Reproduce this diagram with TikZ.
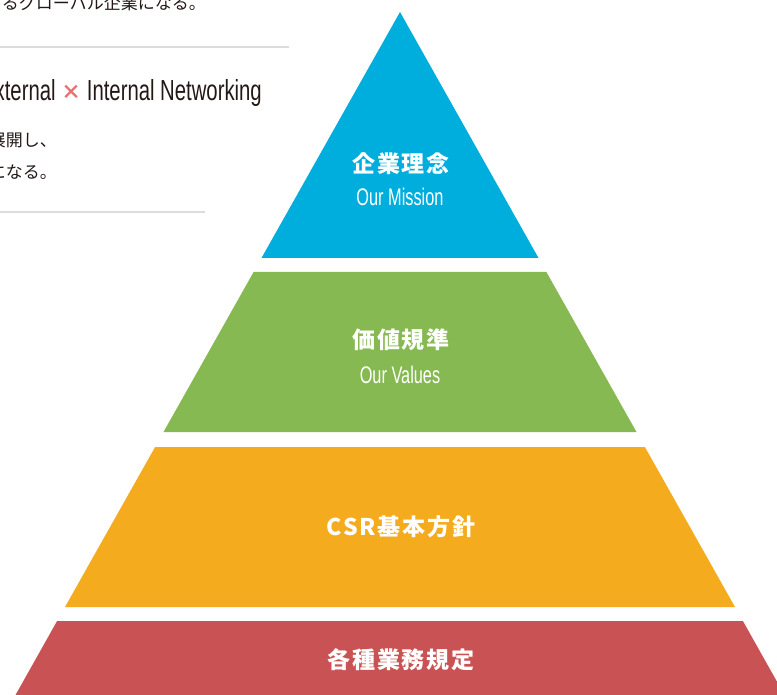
\documentclass[tikz,border=0pt]{standalone}
\usepackage{fontspec}
\newfontfamily\jp{Noto Sans CJK JP}
\newfontfamily\jpt[LetterSpace=8]{Noto Sans CJK JP}
\newfontfamily\cond[FakeStretch=0.70]{Liberation Sans}
\newfontfamily\condb[FakeStretch=0.68]{Liberation Sans}
\definecolor{cblue}{RGB}{0,174,222}
\definecolor{cgreen}{RGB}{134,185,82}
\definecolor{corange}{RGB}{245,171,30}
\definecolor{cred}{RGB}{201,83,84}
\definecolor{cgray}{RGB}{220,220,220}
\definecolor{ctext}{RGB}{35,24,21}
\definecolor{cx}{RGB}{232,112,110}
\tikzset{
  jtitle/.style={text=white,font=\jpt\bfseries\fontsize{23}{26}\selectfont,inner sep=0pt},
  etitle/.style={text=white,font=\condb\fontsize{24}{27}\selectfont,inner sep=0pt},
  body/.style={text=ctext,font=\jp\fontsize{17}{19}\selectfont,inner sep=0pt,anchor=east},
  rule/.style={draw=cgray,line width=1.2pt}
}
\begin{document}
\begin{tikzpicture}[x=1pt,y=-1pt]
\useasboundingbox (0,0) rectangle (777,695);
\clip (0,0) rectangle (777,695);
% pyramid layers
\fill[cblue] (400,12) -- (538.5,258) -- (261.5,258) -- cycle;
\fill[cgreen] (253.6,272) -- (546.4,272) -- (636.5,432) -- (163.5,432) -- cycle;
\fill[corange] (155.1,447) -- (644.9,447) -- (735,607) -- (65,607) -- cycle;
\fill[cred] (57.1,621) -- (742.9,621) -- (787.3,700) -- (12.7,700) -- cycle;
% pyramid labels
\node[jtitle] (m1) at (401,164) {企業理念};
\node[etitle] (m2) at (400,197) {Our Mission};
\node[jtitle] (v1) at (401,340) {価値規準};
\node[etitle] (v2) at (400,375) {Our Values};
\node[jtitle] (c1) at (401,527) {CSR基本方針};
\node[jtitle] (r1) at (401,660) {各種業務規定};
% left text block
\node[body] (t0) at (206,3) {るグローバル企業になる。};
\draw[rule] (0,47) -- (289,47);
\node[inner sep=0pt,anchor=east,text=ctext,font=\cond\fontsize{29}{32}\selectfont] (t1) at (262,93) {xternal {\color{cx}\raisebox{1pt}{\jp\bfseries\fontsize{20}{20}\selectfont ×}} Internal Networking};
\node[body] (t2) at (57,140) {展開し、};
\node[body] (t3) at (57,172) {になる。};
\draw[rule] (0,212) -- (205,212);
\end{tikzpicture}
\end{document}
